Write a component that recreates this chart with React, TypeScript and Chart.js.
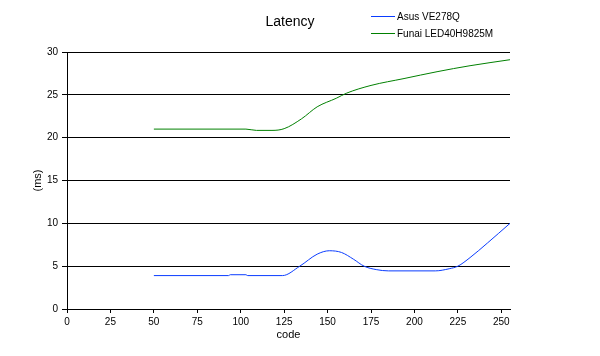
import React, { useEffect, useRef } from "react";
import { Chart, registerables } from "chart.js";

Chart.register(...registerables);

const titleText = "Latency";
const xAxisTitle = "code";
const yAxisTitle = "(ms)";

const seriesNames = ["Asus VE278Q", "Funai LED40H9825M"];
const seriesColors = ["#0a3cff", "#008000"];

const asusCodes = [50, 93, 94, 103, 104, 124, 134, 144, 151, 158, 165, 171, 178, 185, 212, 220, 225, 232, 242, 255];
const asusValues = [3.9, 3.9, 4.0, 4.0, 3.9, 3.9, 5.0, 6.4, 6.8, 6.6, 5.8, 5.0, 4.6, 4.45, 4.45, 4.7, 5.0, 6.0, 7.7, 10.0];

const funaiCodes = [50, 103, 109, 118, 125, 135, 144, 155, 161, 175, 194, 213, 232, 255];
const funaiValues = [21.0, 21.0, 20.85, 20.85, 21.05, 22.2, 23.6, 24.6, 25.2, 26.1, 26.9, 27.7, 28.4, 29.1];

const xTicks = [0, 25, 50, 75, 100, 125, 150, 175, 200, 225, 250];

const FONT = "'Liberation Sans', Arial, sans-serif";

export default function App() {
  const ref = useRef<HTMLCanvasElement | null>(null);

  useEffect(() => {
    document.body.style.margin = "0";
    const canvas = ref.current!;
    const overlay = {
      id: "overlay",
      afterDraw(chart: any) {
        const ctx = chart.ctx;
        ctx.save();
        ctx.fillStyle = "#000";
        ctx.font = `14px ${FONT}`;
        ctx.textAlign = "center";
        ctx.textBaseline = "middle";
        ctx.fillText(titleText, 290, 22);
        ctx.font = `10px ${FONT}`;
        ctx.textAlign = "left";
        const ys = [16, 33];
        seriesNames.forEach((n, i) => {
          ctx.strokeStyle = seriesColors[i];
          ctx.lineWidth = 1;
          ctx.beginPath();
          ctx.moveTo(371, ys[i] + 0.5);
          ctx.lineTo(395, ys[i] + 0.5);
          ctx.stroke();
          ctx.fillText(n, 397, ys[i] + 1);
        });
        ctx.restore();
      },
    };
    const chart = new Chart(canvas, {
      type: "line",
      data: {
        datasets: [
          {
            label: seriesNames[0],
            data: asusCodes.map((x, i) => ({ x, y: asusValues[i] })),
            borderColor: seriesColors[0],
            borderWidth: 1,
            pointRadius: 0,
            cubicInterpolationMode: "monotone",
            fill: false,
          },
          {
            label: seriesNames[1],
            data: funaiCodes.map((x, i) => ({ x, y: funaiValues[i] })),
            borderColor: seriesColors[1],
            borderWidth: 1,
            pointRadius: 0,
            cubicInterpolationMode: "monotone",
            fill: false,
          },
        ],
      },
      options: {
        responsive: false,
        animation: false,
        layout: { padding: { top: 52, right: 90, left: 0, bottom: 0 } },
        plugins: { legend: { display: false }, title: { display: false }, tooltip: { enabled: false } },
        scales: {
          x: {
            type: "linear",
            min: 0,
            max: 255,
            afterBuildTicks: (s: any) => {
              s.ticks = xTicks.map((v) => ({ value: v }));
            },
            afterFit: (s: any) => {
              s.height = 47;
            },
            ticks: { color: "#000", font: { family: FONT, size: 10 }, padding: 3, maxRotation: 0, autoSkip: false },
            grid: { drawOnChartArea: false, color: "#000", tickLength: 4 },
            border: { color: "#000" },
            title: { display: true, text: xAxisTitle, color: "#000", font: { family: FONT, size: 11 }, padding: { top: 0, bottom: 14 } },
          },
          y: {
            min: 0,
            max: 30,
            ticks: { stepSize: 5, color: "#000", font: { family: FONT, size: 10 }, padding: 4 },
            afterFit: (s: any) => {
              s.width = 67;
            },
            grid: { color: "#000", tickLength: 5 },
            border: { color: "#000" },
            title: { display: true, text: yAxisTitle, color: "#000", font: { family: FONT, size: 11 }, padding: { top: 31, bottom: 0 } },
          },
        },
      },
      plugins: [overlay],
    });
    return () => chart.destroy();
  }, []);

  return (
    <div style={{ position: "absolute", left: 0, top: 0, width: 600, height: 356, background: "#fff" }}>
      <canvas ref={ref} width={600} height={356} />
    </div>
  );
}
